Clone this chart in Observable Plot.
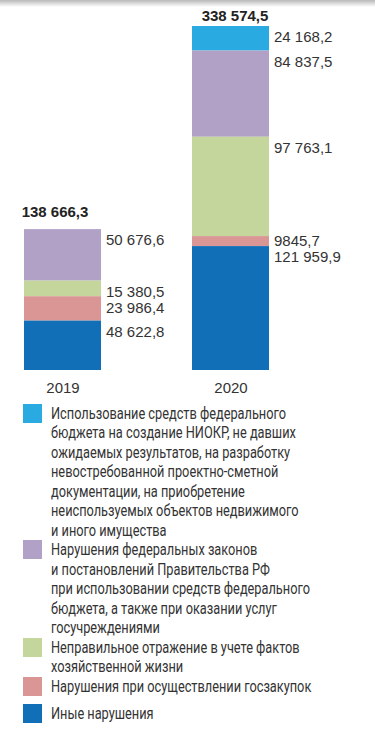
<!DOCTYPE html>
<html>
<head>
<meta charset="utf-8">
<script src="https://cdn.jsdelivr.net/npm/d3@7"></script>
<script src="https://cdn.jsdelivr.net/npm/@observablehq/plot@0.6"></script>
<style>
  html, body { margin: 0; padding: 0; background: #fff; }
  body { width: 375px; height: 737px; position: relative; overflow: hidden; }
  #shade { position: absolute; left: 0; top: 0; width: 375px; height: 7px;
    background: linear-gradient(#b8b8b8, rgba(255,255,255,0)); }
  #chart svg { display: block; }
  #legend { position: absolute; left: 23px; top: 403.5px; width: 345px;
    font-family: Roboto, "Liberation Sans", sans-serif;
    font-size: 16px; line-height: 19.5px; color: #333; }
  .item { display: flex; align-items: flex-start; }
  .item.last { margin-top: 8px; }
  .sw { width: 19px; height: 19px; flex: none; margin-right: 9px; }
  .lbl { white-space: pre; transform-origin: 0 0; }
</style>
</head>
<body>
<div id="shade"></div>
<div id="chart"></div>
<div id="legend"></div>
<script>
const years = ["2019", "2020"];
const categories = [
  "Использование средств федерального бюджета на создание НИОКР, не давших ожидаемых результатов, на разработку невостребованной проектно-сметной документации, на приобретение неиспользуемых объектов недвижимого и иного имущества",
  "Нарушения федеральных законов и постановлений Правительства РФ при использовании средств федерального бюджета, а также при оказании услуг госучреждениями",
  "Неправильное отражение в учете фактов хозяйственной жизни",
  "Нарушения при осуществлении госзакупок",
  "Иные нарушения"
];
const legendLines = [
  "Использование средств федерального\nбюджета на создание НИОКР, не давших\nожидаемых результатов, на разработку\nневостребованной проектно-сметной\nдокументации, на приобретение\nнеиспользуемых объектов недвижимого\nи иного имущества",
  "Нарушения федеральных законов\nи постановлений Правительства РФ\nпри использовании средств федерального\nбюджета, а также при оказании услуг\nгосучреждениями",
  "Неправильное отражение в учете фактов\nхозяйственной жизни",
  "Нарушения при осуществлении госзакупок",
  "Иные нарушения"
];
const colors = ["#29abe2", "#b1a1c7", "#c4d69b", "#d99694", "#116fb8"];
const values2019 = [0, 50676.6, 15380.5, 23986.4, 48622.8];
const values2020 = [24168.2, 84837.5, 97763.1, 9845.7, 121959.9];
const totals = [138666.3, 338574.5];

const data = [];
categories.forEach((c, i) => {
  if (values2019[i] > 0) data.push({year: years[0], cat: c, value: values2019[i]});
  if (values2020[i] > 0) data.push({year: years[1], cat: c, value: values2020[i]});
});
const totalData = years.map((y, i) => ({year: y, total: totals[i]}));
const stackOrder = categories.slice().reverse(); // bottom to top

const loc = d3.formatLocale({decimal: ",", thousands: "\u00a0", grouping: [3], currency: ["", ""]});
const fmtBig = loc.format(",.1f");
const fmtSmall = loc.format(".1f");
const fmt = v => v >= 10000 ? fmtBig(v) : fmtSmall(v);

const numFont = "Liberation Sans, Arial, sans-serif";
const stackOpts = {x: "year", y: "value", z: "cat", order: stackOrder};
const labelStyle = {text: d => fmt(d.value), textAnchor: "start", dx: 43, fill: "#333", fontSize: 15};

const chart = Plot.plot({
  width: 375,
  height: 398,
  marginTop: 26,
  marginBottom: 28,
  marginLeft: 24,
  marginRight: 105.7,
  style: {fontFamily: numFont, fontSize: "15px", color: "#333"},
  x: {domain: years, paddingInner: 0.54, paddingOuter: 0, label: null, tickSize: 0, tickPadding: 12},
  y: {domain: [0, totals[1]], axis: null},
  color: {domain: categories, range: colors},
  marks: [
    Plot.barY(data, Plot.stackY({...stackOpts, fill: "cat"})),
    // labels next to each segment, aligned with the segment's top (stack first, then filter)
    Plot.text(data, Plot.filter(d => d.value >= 10000,
      Plot.stackY2({...stackOpts, ...labelStyle, dy: 11}))),
    // thin segment: label lifted slightly so it clears the next one
    Plot.text(data, Plot.filter(d => d.value < 10000,
      Plot.stackY2({...stackOpts, ...labelStyle, dy: 5}))),
    Plot.text(totalData.filter(d => d.year === years[0]), {x: "year", y: "total",
      text: d => fmt(d.total), dx: -8, dy: -17, fontWeight: "bold", fontSize: 15, fill: "#222"}),
    Plot.text(totalData.filter(d => d.year === years[1]), {x: "year", y: "total",
      text: d => fmt(d.total), dx: 4, dy: -10, fontWeight: "bold", fontSize: 15, fill: "#222"})
  ]
});
document.getElementById("chart").appendChild(chart);

const legend = document.getElementById("legend");
const lbls = [];
categories.forEach((c, i) => {
  const item = document.createElement("div");
  item.className = "item" + (i === categories.length - 1 ? " last" : "");
  const sw = document.createElement("div");
  sw.className = "sw";
  sw.style.background = colors[i];
  const lbl = document.createElement("div");
  lbl.className = "lbl";
  lbl.textContent = legendLines[i];
  item.appendChild(sw);
  item.appendChild(lbl);
  legend.appendChild(item);
  lbls.push(lbl);
});
// condense the legend text to the reference's narrow typeface width
const probe = document.createElement("span");
probe.style.cssText = "position:absolute;visibility:hidden;white-space:pre;font:16px Roboto, 'Liberation Sans', sans-serif";
probe.textContent = legendLines[0].split("\n")[0];
document.body.appendChild(probe);
const s = 235 / probe.getBoundingClientRect().width;
probe.remove();
lbls.forEach(l => { l.style.transform = `scaleX(${s})`; });
</script>
</body>
</html>
